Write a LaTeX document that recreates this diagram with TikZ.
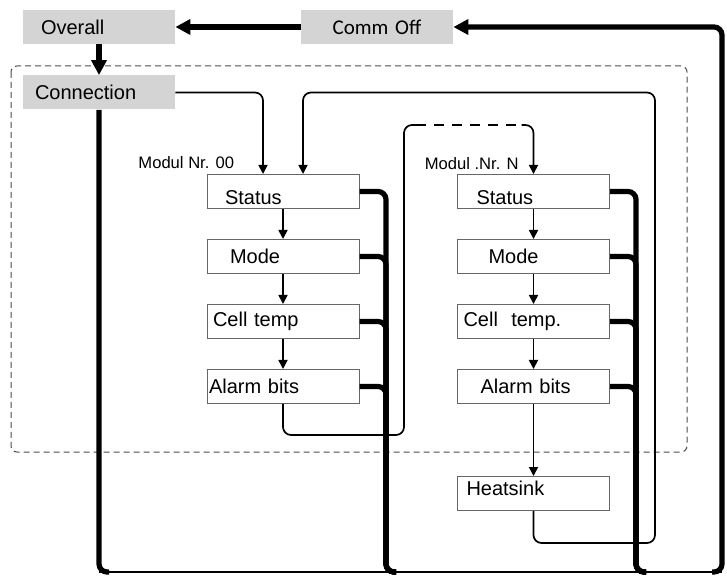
\documentclass[tikz,border=0pt]{standalone}
\usepackage{fontspec}
\setmainfont{Liberation Sans}
\newfontfamily\commfont{Carlito}
\usetikzlibrary{positioning,arrows.meta}
\definecolor{boxgray}{RGB}{212,212,212}

\begin{document}
\begin{tikzpicture}[
  x=0.5pt, y=-0.5pt,
  node distance=15pt,
  gbox/.style={
    fill=boxgray, minimum width=76pt, minimum height=17pt,
    inner xsep=2pt, text width=72pt, align=left,
    font=\fontsize{10}{12}\selectfont,
    },
  mbox/.style={
    draw=black!60, line width=0.5pt, minimum width=76pt, minimum height=17pt,
    inner xsep=2pt, inner ysep=0pt, text width=72pt, align=left,
    font=\fontsize{10}{12}\selectfont,
    },
  lowtext/.style={text height=13.5pt, text depth=0pt},
  modlabel/.style={anchor=base east, inner sep=0pt, font=\fontsize{8.3}{10}\selectfont},
  flow/.style={line width=0.85pt, rounded corners=4pt},
  thintip/.style={-{Triangle[length=4.5pt,width=4.5pt]}},
  bus/.style={line width=2.6pt, rounded corners=4pt},
  bustip/.style={-{Triangle[length=7.5pt,width=7.5pt]}},
  ]
  \useasboundingbox (0,0) rectangle (727,576);

  % frame round the modules
  \draw[dash pattern=on 3pt off 2pt, black!70, line width=0.5pt, rounded corners=3pt]
    (11,66) rectangle (687,452);

  \node[gbox] (overall) at (99,27) {\hspace*{7pt}Overall};
  \node[gbox, align=center] (commoff) at (377,27)
    {\commfont\fontsize{10.5}{12}\selectfont Comm Off};
  \node[gbox] (conn) at (99,92.5) {\hspace*{4pt}Connection};

  % module 00
  \node[mbox, lowtext] (stat00) at (283,191.5) {\hspace*{7pt}Status};
  \node[mbox, below=of stat00] (mode00) {\hspace*{9.5pt}Mode};
  \node[mbox, below=of mode00] (cell00) {\hspace*{1pt}Cell temp};
  \node[mbox, below=of cell00] (alarm00) {\hspace*{-1pt}Alarm bits};
  \node[modlabel] (lab00) at ([xshift=14pt,yshift=2.5pt]stat00.north west) {Modul Nr. 00};

  % module N
  \node[mbox, lowtext] (statN) at (533.5,191.5) {\hspace*{7.5pt}Status};
  \node[mbox, below=of statN] (modeN) {\hspace*{13.5pt}Mode};
  \node[mbox, below=of modeN] (cellN) {\hspace*{1pt}Cell\ \ temp.};
  \node[mbox, below=of cellN] (alarmN) {\hspace*{9.5pt}Alarm bits};
  \node[mbox, below=36pt of alarmN, text height=7.5pt, text depth=5.5pt] (heat)
    {\hspace*{2.5pt}Heatsink};
  \node[modlabel] (labN) at ([xshift=31pt,yshift=2pt]statN.north west) {Modul .Nr. N};

  \coordinate (in00a) at ([xshift=-10pt]stat00.north);
  \coordinate (in00b) at ([xshift=10pt]stat00.north);
  \coordinate (lpB) at (404,435);
  \coordinate (lpT) at (404,125);
  \coordinate (lpN) at (statN.north |- lpT);
  \coordinate (retR) at (655,543);
  \coordinate (retT) at (in00b |- conn.east);
  \coordinate (botL) at (conn.south |- 0,572);
  \coordinate (botR) at (722,572);
  \coordinate (bus00) at (386,572);
  \coordinate (busN) at (636,572);

  % comm off paths
  \draw[bus, bustip] (commoff.west) -- (overall.east);
  \draw[bus, bustip] (overall.south) -- (conn.north);
  \draw[line width=1.3pt] (botL) -- (botR);
  \draw[bus] (conn.south) |- ([xshift=5pt]botL);
  \draw[bus, bustip] ([xshift=-5pt]botR) -- (botR) |- (commoff.east);
  \foreach \b in {stat00,mode00,cell00,alarm00}
    \draw[bus] (\b.east) -| (bus00) -- ++(10,0);
  \foreach \b in {statN,modeN,cellN,alarmN}
    \draw[bus] (\b.east) -| (busN) -- ++(10,0);

  % normal flow
  \draw[flow, thintip] (conn.east) -| (in00a);
  \foreach \a/\b in {stat00/mode00,mode00/cell00,cell00/alarm00,
                     statN/modeN,modeN/cellN,cellN/alarmN,alarmN/heat}
    \draw[flow, thintip] (\a) -- (\b);
  \draw[flow] (alarm00.south) |- (lpB) -- (lpT) -- ++(12,0);
  \draw[flow, dash pattern=on 5pt off 4pt] ([xshift=6pt]lpT) -- ([xshift=-6pt]lpN);
  \draw[flow, thintip] ([xshift=-6pt]lpN) -- (lpN) -- (statN.north);
  \draw[flow, thintip] (heat.south) |- (retR) |- (retT) -- (in00b);
\end{tikzpicture}
\end{document}
